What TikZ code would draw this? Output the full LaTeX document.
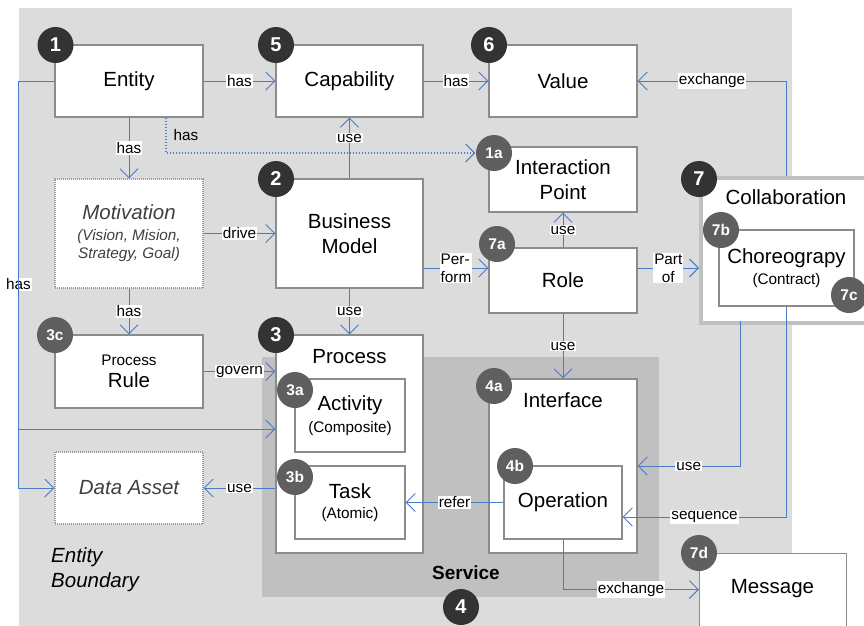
\documentclass[tikz,border=0pt]{standalone}
\usepackage{fontspec}
\setmainfont{Liberation Sans}
\usetikzlibrary{arrows.meta,calc}
\definecolor{bggray}{HTML}{DCDCDC}
\definecolor{svcgray}{HTML}{C0C0C0}
\definecolor{boxgray}{HTML}{8C8C8C}
\definecolor{edgeblue}{HTML}{4A7BC8}
\definecolor{darkc}{HTML}{333333}
\definecolor{midc}{HTML}{5F5F5F}
\definecolor{mottext}{HTML}{404040}
\newcommand{\FontMain}{\fontsize{20.5}{24.7}\selectfont}
\newcommand{\FontSmall}{\fontsize{15.3}{18}\selectfont}
\newcommand{\FontNum}{\fontsize{20}{20}\selectfont\bfseries}
\newcommand{\FontSub}{\fontsize{15.5}{15.5}\selectfont\bfseries}
\begin{document}
\begin{tikzpicture}[x=1pt,y=-1pt,
  box/.style={draw=boxgray, line width=1.1pt, fill=white, inner sep=0pt, align=center, font=\FontMain},
  dotbox/.style={box, draw=gray!80, dash pattern=on 1pt off 1pt},
  edge/.style={draw=edgeblue, line width=1pt, -{Straight Barb[length=9pt,width=18pt]}},
  lbl/.style={fill=white, inner sep=1pt, font=\FontSmall, text=black},
  numd/.style={circle, fill=darkc, minimum size=36pt, inner sep=0pt, text=white, font=\FontNum},
  nums/.style={numd, fill=midc, font=\FontSub},
  plain/.style={inner sep=0pt, font=\FontMain, align=center},
]
\useasboundingbox (0,0) rectangle (864,625);
\fill[white] (0,0) rectangle (864,625);
% backgrounds
\fill[bggray] (19,8) rectangle (792,630);
\fill[svcgray] (262,357) rectangle (659,597);

% boxes
\node[box, minimum width=148pt, minimum height=72pt] (entity) at (129,81) {Entity};
\node[box, minimum width=147pt, minimum height=72pt] (cap) at (349.5,81) {Capability};
\node[box, minimum width=148pt, minimum height=72pt] (value) at (563,81) {Value};
\node[dotbox, minimum width=148pt, minimum height=109pt, text=mottext, font=\FontSmall\itshape, align=center] (mot) at (129,233.5)
  {{\FontMain\itshape Motivation}\\[3pt](Vision, Mision,\\Strategy, Goal)};
\node[box, minimum width=147pt, minimum height=109pt] (bm) at (349.5,233.5) {Business\\Model};
\node[box, minimum width=148pt, minimum height=65pt] (ip) at (563,179.5) {Interaction\\Point};
\node[box, minimum width=148pt, minimum height=65pt] (role) at (563,280.5) {Role};
\node[draw=svcgray, line width=4pt, fill=white, minimum width=175pt, minimum height=145pt, anchor=north west, inner sep=0pt] (collab) at (699,176) {};
\node[plain] (collabt) at (786,197) {Collaboration};
\node[box, minimum width=135pt, minimum height=76pt, font=\fontsize{15.3}{20.5}\selectfont] (choreo) at (786.5,268)
  {{\FontMain Choreograpy}\\(Contract)};
\node[box, minimum width=148pt, minimum height=73pt, font=\fontsize{15.3}{22.5}\selectfont] (rule) at (129,371.5)
  {Process\\{\FontMain Rule}};
\node[box, minimum width=147pt, minimum height=218pt] (proc) at (349.5,444) {};
\node[plain] (proct) at (349.5,357) {Process};
\node[box, minimum width=110pt, minimum height=73pt, font=\fontsize{15.3}{21.5}\selectfont] (act) at (350,415.5)
  {{\FontMain Activity}\\(Composite)};
\node[box, minimum width=110pt, minimum height=73pt, font=\fontsize{15.3}{20.5}\selectfont] (task) at (350,502.5)
  {{\FontMain Task}\\(Atomic)};
\node[dotbox, minimum width=148pt, minimum height=72pt, text=mottext, font=\FontMain\itshape] (data) at (129,488) {Data Asset};
\node[box, minimum width=148pt, minimum height=174pt] (iface) at (563,466) {};
\node[plain] (ifacet) at (563,400) {Interface};
\node[box, minimum width=118pt, minimum height=73pt] (op) at (563,502.5) {Operation};
\node[box, minimum width=147pt, minimum height=80pt, anchor=north west] (msg) at (699,553) {};
\node[plain] (msgt) at (772.5,589) {Message};

% texts
\node[plain, font=\FontMain\itshape, align=left, anchor=west] (eb) at (51,570) {Entity\\Boundary};
\node[plain, font=\fontsize{19}{19}\selectfont\bfseries] (svc) at (466,573) {Service};

% edges
\draw[edge] (entity) -- node[lbl]{has} (cap);
\draw[edge] (cap) -- node[lbl]{has} (value);
\draw[edge] (choreo.north |- collab.north) |- node[lbl,pos=0.75]{exchange} (value.east);
\draw[edge] (entity) -- node[lbl]{has} (mot);
\draw[edge, line width=1.2pt, dash pattern=on 1.5pt off 1.5pt] ([xshift=37pt]entity.south) |- node[pos=0.25, right=7pt, font=\FontSmall, inner sep=0pt]{has} ([xshift=-13pt,yshift=26.5pt]ip.west);
\draw[edge] (bm) -- node[lbl,pos=0.66]{use} (cap);
\draw[edge] (mot) -- node[lbl]{drive} (bm);
\draw[edge] (mot) -- node[lbl]{has} (rule);
\draw[edge] (bm) -- node[lbl]{use} (proc);
\draw[edge] ([yshift=-34.5pt]bm.east) -- node[lbl, align=left]{Per-\\form} ([yshift=12.5pt]role.west);
\draw[edge] (role) -- node[lbl]{use} (ip);
\draw[edge] ([yshift=12.5pt]role.east) -- node[lbl, align=center]{Part\\of} ([yshift=12.5pt]role.east -| collab.west);
\draw[edge] (role) -- node[lbl]{use} (iface);
\draw[edge] (rule.east) -- node[lbl]{govern} (rule.east -| proc.west);
\draw[edge] (entity.west) -- ++(-36,0) |- node[lbl,pos=0.25]{has} (data.west);
\draw[edge] (entity.west) -- ++(-36,0) |- ([yshift=15pt]proc.west);
\draw[edge] (proc.west |- data.east) -- node[lbl]{use} (data.east);
\draw[edge] (op.west) -- node[lbl]{refer} (task.east);
\coordinate (cu) at (740,321);
\draw[edge] (cu) |- node[lbl,pos=0.75]{use} (iface.east);
\draw[edge] (choreo.south) |- node[lbl,pos=0.75]{sequence} ([yshift=-14.5pt]op.east);
\draw[edge] (op.south) |- node[lbl,pos=0.75]{exchange} ([yshift=4pt]msg.west);

% number circles
\node[numd] (c1) at (55.5,45) {1};
\node[numd] (c5) at (276,45) {5};
\node[numd] (c6) at (489,45) {6};
\node[numd] (c2) at (276,179) {2};
\node[nums] (c1a) at (494,153) {1a};
\node[nums] (c7a) at (497,244) {7a};
\node[numd] (c7) at (699,179) {7};
\node[nums] (c7b) at (721,230) {7b};
\node[nums] (c7c) at (849,295) {7c};
\node[nums] (c3c) at (55,335) {3c};
\node[numd] (c3) at (276,335) {3};
\node[nums] (c3a) at (295,390) {3a};
\node[nums] (c3b) at (295,477) {3b};
\node[nums] (c4a) at (494,386) {4a};
\node[nums] (c4b) at (515,466) {4b};
\node[nums] (c7d) at (699,553) {7d};
\node[numd] (c4) at (461,607) {4};
\end{tikzpicture}
\end{document}
